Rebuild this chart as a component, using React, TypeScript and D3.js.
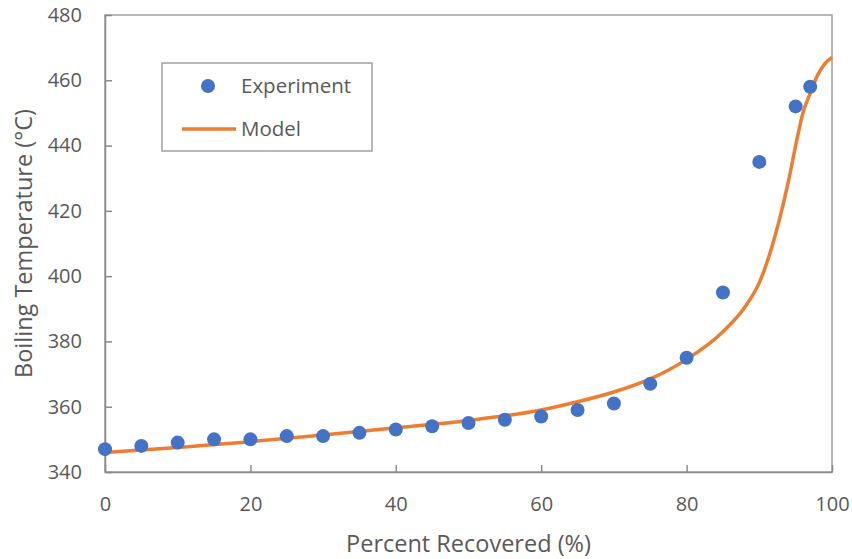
import React, { useEffect, useRef } from 'react';
import * as d3 from 'd3';

// experiment points
const expX = [0, 5, 10, 15, 20, 25, 30, 35, 40, 45, 50, 55, 60, 65, 70, 75, 80, 85, 90, 95, 97];
const expY = [347, 348, 349, 350, 350, 351, 351, 352, 353, 354, 355, 356, 357, 359, 361, 367, 375, 395, 435, 452, 458];

// model curve, sampled by eye
const modelX = [0, 10, 20, 30, 40, 50, 60, 65, 70, 75, 80, 85, 88, 90, 92, 94, 95, 96, 97, 98, 99, 100];
const modelY = [346, 347.5, 349.3, 351.3, 353.5, 355.8, 359, 361.5, 364.5, 368.5, 374.5, 383, 390.5, 398, 411, 429, 440, 450, 456, 461.5, 465, 467];

const xTicks = [0, 20, 40, 60, 80, 100];
const yTicks = [340, 360, 380, 400, 420, 440, 460, 480];

const App = () => {
    const svgRef = useRef<SVGSVGElement>(null);

    useEffect(() => {
        const svg = d3.select(svgRef.current);
        svg.selectAll('*').remove();

        const width = 852;
        const height = 559;
        const margin = { top: 15, right: 20, bottom: 87, left: 105 };
        const font = '"Open Sans", sans-serif';
        const textColor = '#595959';

        const x = d3.scaleLinear().domain([0, 100]).range([margin.left, width - margin.right]);
        const y = d3.scaleLinear().domain([340, 480]).range([height - margin.bottom, margin.top]);

        // plot frame
        svg.append('rect')
            .attr('x', x(0)).attr('y', y(480))
            .attr('width', x(100) - x(0)).attr('height', y(340) - y(480))
            .attr('fill', 'none').attr('stroke', '#a0a0a0').attr('stroke-width', 1.5);

        const yAxis = svg.append('g')
            .attr('transform', `translate(${x(0)},0)`)
            .call(d3.axisLeft(y).tickValues(yTicks).tickSizeInner(-7).tickSizeOuter(0).tickPadding(23));
        const xAxis = svg.append('g')
            .attr('transform', `translate(0,${y(340)})`)
            .call(d3.axisBottom(x).tickValues(xTicks).tickSizeInner(-7).tickSizeOuter(0).tickPadding(25));

        [yAxis, xAxis].forEach(g => {
            g.select('.domain').attr('stroke', '#8a8a8a').attr('stroke-width', 1.5);
            g.selectAll('.tick line').attr('stroke', '#8a8a8a').attr('stroke-width', 1.5);
            g.selectAll('.tick text')
                .attr('fill', textColor)
                .style('font-family', font)
                .style('font-size', '20px');
        });

        // model line
        const line = d3.line<number>()
            .x((d, i) => x(modelX[i]))
            .y(d => y(d))
            .curve(d3.curveMonotoneX);
        svg.append('path')
            .datum(modelY)
            .attr('d', line)
            .attr('fill', 'none')
            .attr('stroke', '#ED7D31')
            .attr('stroke-width', 3.5);

        // experiment points
        svg.append('g')
            .selectAll('circle')
            .data(expY)
            .join('circle')
            .attr('cx', (d, i) => x(expX[i]))
            .attr('cy', d => y(d))
            .attr('r', 7)
            .attr('fill', '#4472C4');

        // axis titles
        svg.append('text')
            .attr('x', (x(0) + x(100)) / 2)
            .attr('y', 552)
            .attr('text-anchor', 'middle')
            .attr('fill', textColor)
            .style('font-family', font)
            .style('font-size', '23.5px')
            .text('Percent Recovered (%)');

        svg.append('text')
            .attr('transform', `translate(32,${(y(340) + y(480)) / 2}) rotate(-90)`)
            .attr('text-anchor', 'middle')
            .attr('fill', textColor)
            .style('font-family', font)
            .style('font-size', '23.5px')
            .text('Boiling Temperature (°C)');

        // legend
        const legend = svg.append('g');
        legend.append('rect')
            .attr('x', 162).attr('y', 63).attr('width', 210).attr('height', 88)
            .attr('fill', 'white').attr('stroke', '#a0a0a0').attr('stroke-width', 1.5);
        legend.append('circle').attr('cx', 208).attr('cy', 86).attr('r', 7).attr('fill', '#4472C4');
        legend.append('line')
            .attr('x1', 182).attr('x2', 236).attr('y1', 129).attr('y2', 129)
            .attr('stroke', '#ED7D31').attr('stroke-width', 3.5);
        legend.selectAll('text.lab')
            .data(['Experiment', 'Model'])
            .join('text')
            .attr('class', 'lab')
            .attr('x', 241)
            .attr('y', (d, i) => 86 + i * 43)
            .attr('dy', '0.35em')
            .attr('fill', textColor)
            .style('font-family', font)
            .style('font-size', '20.5px')
            .text(d => d);
    }, []);

    return <svg ref={svgRef} width={852} height={559} style={{ position: 'absolute', left: 0, top: 0 }}></svg>;
};

export default App;
